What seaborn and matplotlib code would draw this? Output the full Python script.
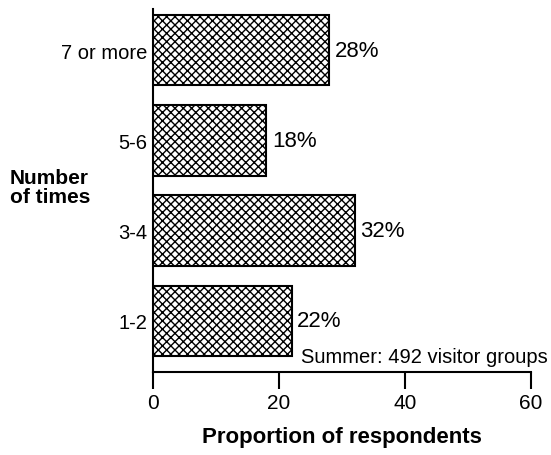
import pandas as pd
import matplotlib
matplotlib.use('Agg')
from matplotlib import pyplot as plt
import seaborn as sns

# dane z wykresu
kategorie = ['7 or more', '5-6', '3-4', '1-2']
procenty = [28, 18, 32, 22]

df = pd.DataFrame({'times': kategorie, 'pct': procenty})

sns.set_style('ticks')
plt.rcParams['font.family'] = ['Liberation Sans', 'DejaVu Sans']
plt.rcParams['hatch.linewidth'] = 1.0
plt.rcParams['text.color'] = 'black'
plt.rcParams['axes.labelcolor'] = 'black'
plt.rcParams['xtick.color'] = 'black'
plt.rcParams['ytick.color'] = 'black'

fig = plt.figure(figsize=(5.51, 4.56), dpi=100)
ax = fig.add_axes([0.2777, 0.182, 0.686, 0.796])

sns.barplot(data=df, x='pct', y='times', orient='h', order=kategorie,
            color='white', edgecolor='black', linewidth=1.5, width=0.78,
            hatch='xxxx', ax=ax)

# etykiety z procentami
for i, v in enumerate(procenty):
    ax.text(v + 0.9, i, f'{v}%', va='center', ha='left', fontsize=16)

ax.set_xlim(0, 60)
ax.set_ylim(3.567, -0.456)
ax.set_xticks([0, 20, 40, 60])
ax.tick_params(axis='x', length=12, width=1.5, labelsize=15, pad=3)
ax.tick_params(axis='y', length=0, labelsize=14.5, pad=4)
sns.despine(ax=ax)
for s in ['left', 'bottom']:
    ax.spines[s].set_linewidth(1.5)
    ax.spines[s].set_color('black')

ax.set_xlabel('Proportion of respondents', fontsize=16, fontweight='bold', labelpad=10)
ax.set_ylabel('')
fig.text(0.018, 0.588, 'Number\nof times', fontsize=15, fontweight='bold',
         ha='left', va='center', linespacing=1.0)

ax.text(62.6, 3.4, 'Summer: 492 visitor groups', ha='right', va='center', fontsize=14.5,
        clip_on=False)

plt.savefig('out.png', dpi=100)
